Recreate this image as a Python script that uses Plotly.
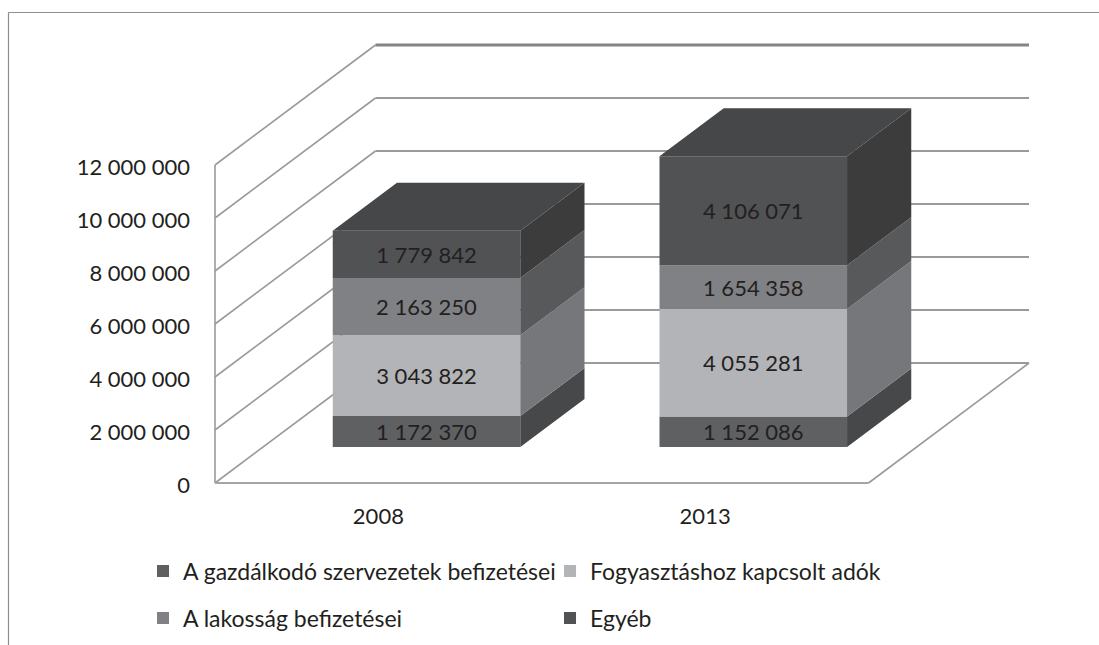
import plotly.graph_objects as go

# ---- data
years = ["2008", "2013"]
series_names = [
    "A gazdálkodó szervezetek befizetései",
    "Fogyasztáshoz kapcsolt adók",
    "A lakosság befizetései",
    "Egyéb",
]
gazdalkodo = [1172370, 1152086]
fogyasztas = [3043822, 4055281]
lakossag = [2163250, 1654358]
egyeb = [1779842, 4106071]
y_ticks = [0, 2000000, 4000000, 6000000, 8000000, 10000000, 12000000]

# ---- styles
front_colors = ["#5f6062", "#b3b4b7", "#808184", "#515254"]
side_colors = ["#47484a", "#76777a", "#58595b", "#3c3c3c"]
top_color = "#464749"
grid_color = "#9a9a9b"
text_color = "#231f20"
FONT = "Lato"
W, H = 1099, 645

# ---- pixel frame of the oblique projection
FLOOR_L, FLOOR_R, WALL_R = 215.0, 868.5, 1029.0
BASE_Y, BACK_BASE_Y = 483.0, 363.0
PX_PER_UNIT = 53.0 / 2000000
PAD = 4  # px kept round the plot so that edge lines are not clipped

cat_px = (FLOOR_R - FLOOR_L) / len(years)
wall_dx = (WALL_R - FLOOR_R) / cat_px          # depth, in category units
wall_rise = (BASE_Y - BACK_BASE_Y) / PX_PER_UNIT  # depth, in value units
GAP_FRONT, BAR_DEPTH = 0.30, 0.40
BAR_W = 0.574
y_top = max(y_ticks) + wall_rise

margin_l = FLOOR_L - PAD
margin_r = W - WALL_R - PAD
margin_t = BASE_Y - (y_top * PX_PER_UNIT) - PAD
margin_b = H - BASE_Y - PAD
x_range = [-PAD / cat_px, len(years) + wall_dx + PAD / cat_px]
y_range = [-PAD / PX_PER_UNIT, y_top + PAD / PX_PER_UNIT]
plot_w = W - margin_l - margin_r
plot_h = H - margin_t - margin_b


def fmt(v):
    return f"{v:,}".replace(",", " ")


def px_x(p):
    return (p - margin_l) / plot_w


def px_y(p):
    return 1 - (p - margin_t) / plot_h


fig = go.Figure()
values = [gazdalkodo, fogyasztas, lakossag, egyeb]
centres = [i + 0.5 + GAP_FRONT * wall_dx for i in range(len(years))]
dx_bar = BAR_DEPTH * wall_dx
rise_bar = BAR_DEPTH * wall_rise
floor_rise = GAP_FRONT * wall_rise

# stacked front faces through the library's bars
cum = [floor_rise] * len(years)
bounds = []
for s, vals in enumerate(values):
    bases = list(cum)
    fig.add_bar(
        x=centres,
        y=vals,
        base=bases,
        width=BAR_W,
        name=series_names[s],
        legend="legend" if s < 2 else "legend2",
        marker=dict(color=front_colors[s], line=dict(width=0)),
        text=[fmt(v) for v in vals],
        textposition="inside",
        insidetextanchor="middle",
        textangle=0,
        constraintext="none",
        textfont=dict(family=FONT, size=22, color=text_color),
        hoverinfo="skip",
    )
    cum = [b + v for b, v in zip(bases, vals)]
    bounds.append((bases, list(cum)))

# side and top faces, derived from the same values
for s, (bases, tops) in enumerate(bounds):
    xs, ys = [], []
    for c, b, t in zip(centres, bases, tops):
        xr = c + BAR_W / 2
        xs += [xr, xr + dx_bar, xr + dx_bar, xr, xr, None]
        ys += [b, b + rise_bar, t + rise_bar, t, b, None]
    fig.add_scatter(x=xs, y=ys, mode="lines", fill="toself", fillcolor=side_colors[s],
                    line=dict(width=0, color=side_colors[s]), showlegend=False, hoverinfo="skip")
xs, ys = [], []
for c, t in zip(centres, bounds[-1][1]):
    xl, xr = c - BAR_W / 2, c + BAR_W / 2
    xs += [xl, xl + dx_bar, xr + dx_bar, xr, xl, None]
    ys += [t, t + rise_bar, t + rise_bar, t, t, None]
fig.add_scatter(x=xs, y=ys, mode="lines", fill="toself", fillcolor=top_color,
                line=dict(width=0, color=top_color), showlegend=False, hoverinfo="skip")

# wall and floor grid, behind the bars
shapes = []
n = len(years)


def seg(x0, y0, x1, y1, width=1.6, color=grid_color):
    shapes.append(dict(type="line", xref="x", yref="y", x0=x0, y0=y0, x1=x1, y1=y1,
                       layer="below", line=dict(color=color, width=width)))


for v in y_ticks:
    is_top = v == max(y_ticks)
    seg(0, v, wall_dx, v + wall_rise)
    seg(wall_dx, v + wall_rise, n + wall_dx, v + wall_rise,
        width=3 if is_top else 1.8, color="#858586" if is_top else grid_color)
seg(0, 0, 0, max(y_ticks))
seg(0, 0, n, 0, width=2, color="#a5a5a6")
seg(n, 0, n + wall_dx, wall_rise)

# outer frame of the chart area
for (a, b, c, d) in [(8.5, 12.5, 1099, 12.5), (8.5, 12.5, 8.5, 645)]:
    shapes.append(dict(type="line", xref="paper", yref="paper", x0=px_x(a), y0=px_y(b),
                       x1=px_x(c), y1=px_y(d), line=dict(color="#8e8e8e", width=1.2)))

legend_common = dict(
    orientation="h", xanchor="left", yanchor="middle", bgcolor="rgba(0,0,0,0)",
    font=dict(family=FONT, size=23, color=text_color),
    entrywidthmode="pixels", entrywidth=362,
    traceorder="normal", itemclick=False, itemdoubleclick=False,
)

fig.update_layout(
    width=W, height=H,
    margin=dict(l=margin_l, r=margin_r, t=margin_t, b=margin_b, pad=0, autoexpand=False),
    paper_bgcolor="white", plot_bgcolor="white",
    barmode="overlay",
    showlegend=True,
    shapes=shapes,
    font=dict(family=FONT, size=22, color=text_color),
    xaxis=dict(range=x_range, tickvals=[i + 0.5 for i in range(n)], ticktext=years,
               showgrid=False, zeroline=False, showline=False, ticks="",
               ticklabelstandoff=14, fixedrange=True),
    yaxis=dict(range=y_range, tickvals=y_ticks, ticktext=[fmt(v) for v in y_ticks],
               showgrid=False, zeroline=False, showline=False, ticks="",
               ticklabelstandoff=20, ticklabelshift=2, fixedrange=True),
    legend=dict(x=px_x(143), y=px_y(571), **legend_common),
    legend2=dict(x=px_x(143), y=px_y(618), **legend_common),
)

fig.write_html("out.html", config=dict(displayModeBar=False),
               post_script="document.body.style.margin='0';document.body.style.overflow='hidden';")
